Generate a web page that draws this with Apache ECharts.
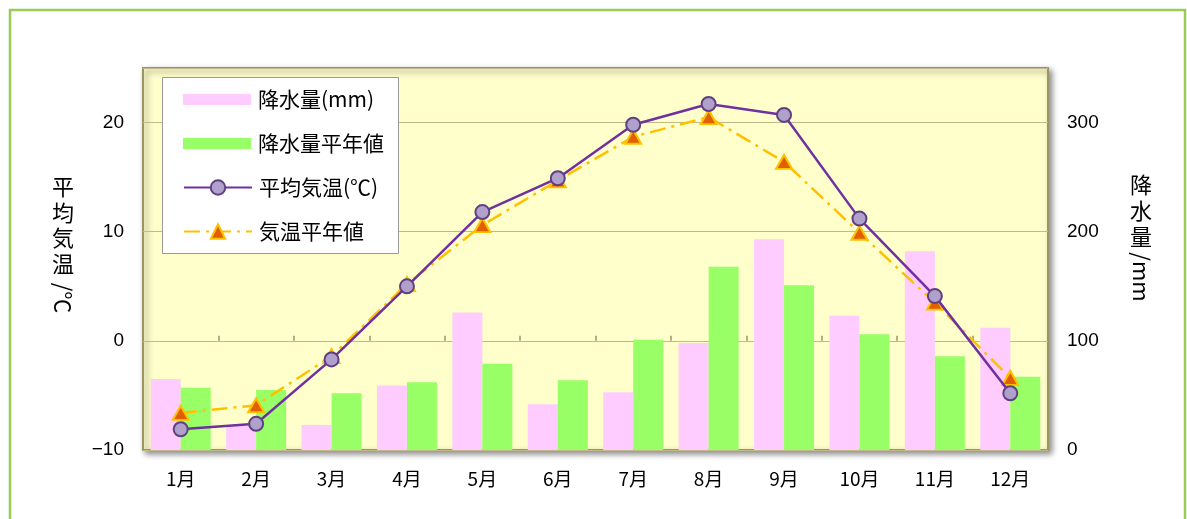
<!DOCTYPE html>
<html><head><meta charset="utf-8">
<script src="https://cdn.jsdelivr.net/npm/echarts@6/dist/echarts.min.js"></script>
<style>html,body{margin:0;padding:0;background:#fff}#c{width:1187px;height:519px}</style>
</head><body><div id="c"></div>
<script>
const months = ['1月','2月','3月','4月','5月','6月','7月','8月','9月','10月','11月','12月'];
const precip = [65, 22, 23, 59, 126, 42, 53, 98, 193, 123, 182, 112];
const precipNormal = [57, 55, 52, 62, 79, 64, 101, 168, 151, 106, 86, 67];
const temp = [-8.1, -7.6, -1.7, 5.0, 11.8, 14.9, 19.8, 21.7, 20.7, 11.2, 4.1, -4.8];
const tempNormal = [-6.6, -5.9, -1.4, 5.2, 10.6, 14.7, 18.7, 20.5, 16.4, 9.9, 3.5, -3.4];
const seriesNames = ['降水量(mm)', '降水量平年値', '平均気温(℃)', '気温平年値'];
const leftName = ['平','均','気','温'], leftUnit = '/℃';
const rightName = ['降','水','量'], rightUnit = '/mm';

const FONT = "'Noto Sans CJK JP', 'Noto Sans', sans-serif";
const chart = echarts.init(document.getElementById('c'));

const graphics = [
  {type:'rect', shape:{x:10,y:10,width:1175,height:520}, style:{fill:'none', stroke:'#99cc55', lineWidth:2.5}, z:-10},
  {type:'rect', shape:{x:162.5,y:77.5,width:236,height:176}, style:{fill:'#fff', stroke:'#999', lineWidth:1}, z:90}
];
leftName.forEach((ch,i)=>graphics.push({type:'text', x:63, y:187+i*25.5, style:{text:ch, font:'22px '+FONT, fill:'#000', align:'center', verticalAlign:'middle'}}));
graphics.push({type:'text', x:63, y:298, rotation:-Math.PI/2, style:{text:leftUnit, font:'22px '+FONT, fill:'#000', align:'center', verticalAlign:'middle'}});
rightName.forEach((ch,i)=>graphics.push({type:'text', x:1141, y:185+i*26, style:{text:ch, font:'22px '+FONT, fill:'#000', align:'center', verticalAlign:'middle'}}));
graphics.push({type:'text', x:1141, y:277, rotation:-Math.PI/2, style:{text:rightUnit, font:'22px '+FONT, fill:'#000', align:'center', verticalAlign:'middle'}});

const legendText = {fontSize:21, color:'#000', fontFamily:FONT, padding:[0,0,0,2]};
chart.setOption({
  animation:false,
  textStyle:{fontFamily:FONT},
  graphic: graphics,
  grid:{left:143, top:68, width:905, height:382, show:true, backgroundColor:'#ffffcc', borderColor:'#9c9464', borderWidth:2,
        shadowColor:'rgba(0,0,0,0.45)', shadowBlur:6, shadowOffsetX:3, shadowOffsetY:3},
  legend:[
    {orient:'vertical', left:183, top:89, padding:0, itemWidth:68, itemHeight:11, itemGap:23, z:100,
     textStyle:legendText,
     data:[{name:seriesNames[0], icon:'rect'}, {name:seriesNames[1], icon:'rect'}]},
    {orient:'vertical', left:183, top:177, padding:0, itemWidth:68, itemHeight:18, itemGap:23, z:100,
     textStyle:legendText,
     data:[{name:seriesNames[2]}, {name:seriesNames[3]}]}
  ],
  xAxis:{
    type:'category', data:months, boundaryGap:true,
    axisLine:{show:false},
    axisTick:{show:true, inside:true, length:5, lineStyle:{color:'#9c9464', width:1.5}},
    axisLabel:{fontSize:19, color:'#000', margin:19, fontFamily:FONT}
  },
  yAxis:[
    {type:'value', min:-10, max:25, interval:10, position:'left',
     axisLine:{show:false}, axisTick:{show:false},
     axisLabel:{fontSize:19, color:'#000', margin:19, showMaxLabel:false, fontFamily:"'Liberation Sans', sans-serif",
                formatter:v=> v<0 ? '\u2212'+Math.abs(v) : String(v)},
     splitLine:{show:true, lineStyle:{color:'#c2b98a', width:1.2}}},
    {type:'value', min:0, max:350, interval:100, position:'right',
     axisLine:{show:false}, axisTick:{show:false},
     axisLabel:{fontSize:19, color:'#000', margin:19, showMaxLabel:false, fontFamily:"'Liberation Sans', sans-serif"},
     splitLine:{show:false}}
  ],
  series:[
    {name:seriesNames[0], type:'bar', yAxisIndex:1, data:precip, barWidth:30, barGap:'0%', itemStyle:{color:'#ffccff'}},
    {name:seriesNames[1], type:'bar', yAxisIndex:1, data:precipNormal, barWidth:30, barGap:'0%', itemStyle:{color:'#99ff66'}},
    {name:seriesNames[3], type:'line', yAxisIndex:0, data:tempNormal, symbol:'triangle', symbolSize:[16,14],
     lineStyle:{color:'#ffc000', width:2.5, type:[16,6,3,6]},
     itemStyle:{color:'#e06000', borderColor:'#ffc000', borderWidth:2}, z:3},
    {name:seriesNames[2], type:'line', yAxisIndex:0, data:temp, symbol:'circle', symbolSize:14,
     lineStyle:{color:'#7030a0', width:2.5},
     itemStyle:{color:'#b0a0cc', borderColor:'#604080', borderWidth:2}, z:4}
  ]
});
</script></body></html>
